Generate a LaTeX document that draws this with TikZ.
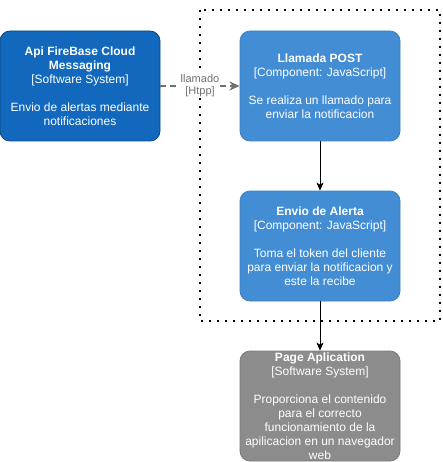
\documentclass[tikz,border=0pt]{standalone}
\usepackage{fontspec}
\setmainfont{Liberation Sans}
\usetikzlibrary{arrows.meta}

\definecolor{sysblue}{HTML}{1168BD}
\definecolor{sysline}{HTML}{0B4884}
\definecolor{compblue}{HTML}{438DD5}
\definecolor{compline}{HTML}{3C7FC0}
\definecolor{extgray}{HTML}{8C8C8C}
\definecolor{extline}{HTML}{7A7A7A}
\definecolor{callgray}{HTML}{707070}

\newcommand{\ctitle}[1]{{\fontsize{12}{14}\selectfont\bfseries #1}}

\begin{document}
\begin{tikzpicture}[x=1pt,y=-1pt,
    c4box/.style={rectangle, rounded corners=10pt, minimum width=160pt,
        minimum height=110pt, inner sep=0pt, text=white, align=center,
        line width=0.8pt, font=\fontsize{12}{14}\selectfont},
    sysbox/.style={c4box, fill=sysblue, draw=sysline},
    compbox/.style={c4box, fill=compblue, draw=compline},
    extbox/.style={c4box, fill=extgray, draw=extline},
    conn/.style={-{Stealth[length=8pt,width=7pt,inset=2pt]}, line width=1pt, black},
    call/.style={-{Stealth[length=10pt,width=9pt,inset=3pt]}, line width=1.5pt,
        callgray, dash pattern=on 6pt off 4pt},
    lbl/.style={fill=white, text=callgray, align=center, inner sep=1pt,
        font=\fontsize{11}{12}\selectfont}]

    \useasboundingbox (0,0) rectangle (443,462);

    % boundary of the container
    \draw[line width=1.6pt, dash pattern=on 1.6pt off 6.4pt] (200,10) rectangle (440,321);

    \node[sysbox] at (80,86) (api) {\ctitle{Api FireBase Cloud}\\\ctitle{Messaging}\\
        {[Software System]}\\[14pt]Envio de alertas mediante\\notificaciones};
    \node[compbox] at (320,86) (post) {\ctitle{Llamada POST}\\{[Component: JavaScript]}\\[14pt]
        Se realiza un llamado para\\enviar la notificacion};
    \node[compbox] at (320,246) (alerta) {\ctitle{Envio de Alerta}\\{[Component: JavaScript]}\\[14pt]
        Toma el token del cliente\\para enviar la notificacion y\\este la recibe};
    \node[extbox] at (320,406) (page) {\ctitle{Page Aplication}\\{[Software System]}\\[14pt]
        Proporciona el contenido\\para el correcto\\funcionamiento de la\\
        apilicacion en un navegador\\web};

    \draw[call] (api.east) -- node[lbl] (callname) {llamado\\{[Htpp]}} (post.west);
    \draw[conn] (post.south) -- (alerta.north);
    \draw[conn] (alerta.south) -- (page.north);

\end{tikzpicture}
\end{document}
